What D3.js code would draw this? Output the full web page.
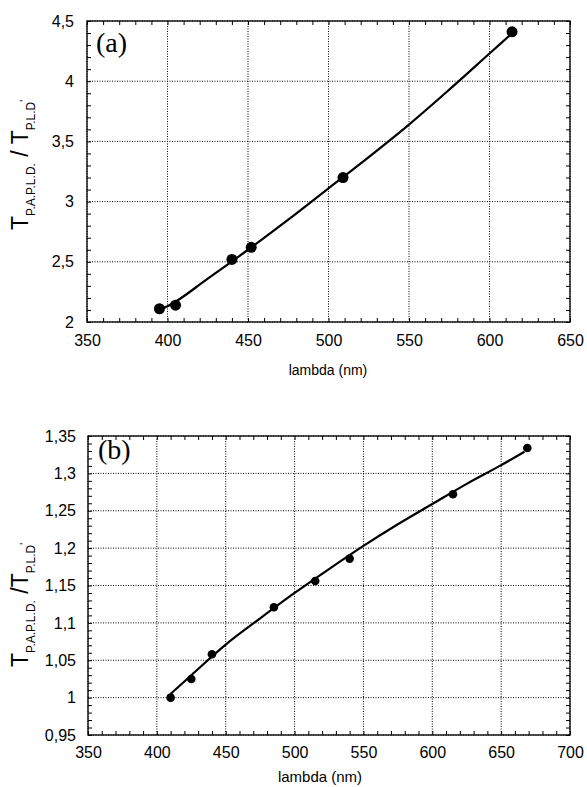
<!DOCTYPE html>
<html>
<head>
<meta charset="utf-8">
<script src="https://cdn.jsdelivr.net/npm/d3@7"></script>
<style>
  body { margin: 0; background: #fff; }
  svg { display: block; font-family: "Liberation Sans", Arial, Helvetica, sans-serif; }
</style>
</head>
<body>
<script>
// ---- panel (a) data ----
const lambdaA = [395, 405, 440, 452, 509, 614];
const ratioA = [2.11, 2.14, 2.52, 2.62, 3.20, 4.41];
// fitted curve
const fitLambdaA = [395, 400, 425, 450, 475, 500, 525, 550, 575, 600, 615];
const fitRatioA = [2.10, 2.13, 2.36, 2.60, 2.85, 3.11, 3.37, 3.64, 3.93, 4.23, 4.41];
const xTicksA = [350, 400, 450, 500, 550, 600, 650];
const xTickLabelsA = ["350", "400", "450", "500", "550", "600", "650"];
const yTicksA = [2, 2.5, 3, 3.5, 4, 4.5];
const yTickLabelsA = ["2", "2,5", "3", "3,5", "4", "4,5"];

// ---- panel (b) data ----
const lambdaB = [410, 425, 440, 485, 515, 540, 615, 669];
const ratioB = [1.000, 1.025, 1.058, 1.121, 1.156, 1.186, 1.272, 1.334];
const fitLambdaB = [410, 425, 450, 475, 500, 525, 550, 575, 600, 625, 650, 667];
const fitRatioB = [1.005, 1.030, 1.071, 1.106, 1.140, 1.172, 1.203, 1.232, 1.259, 1.286, 1.311, 1.329];
const xTicksB = [350, 400, 450, 500, 550, 600, 650, 700];
const xTickLabelsB = ["350", "400", "450", "500", "550", "600", "650", "700"];
const yTicksB = [0.95, 1, 1.05, 1.1, 1.15, 1.2, 1.25, 1.3, 1.35];
const yTickLabelsB = ["0,95", "1", "1,05", "1,1", "1,15", "1,2", "1,25", "1,3", "1,35"];

// append svg element to body tag
var svg = d3.select('body').append('svg')
    .attr('width', 587)
    .attr('height', 787);

// draws one panel: frame, dotted grid, inward ticks, labels, curve and dots
function drawPanel(p) {
    var w = p.right - p.left,
        h = p.bottom - p.top;

    var x = d3.scaleLinear().domain(p.xDomain).range([0, w]),
        y = d3.scaleLinear().domain(p.yDomain).range([h, 0]);

    var g = svg.append('g')
        .attr('transform', 'translate(' + p.left + ',' + p.top + ')');

    // dotted grid on major ticks
    g.append('g').selectAll('line')
        .data(p.xTicks)
        .enter().append('line')
        .attr('x1', function(d) { return x(d); })
        .attr('x2', function(d) { return x(d); })
        .attr('y1', 0).attr('y2', h)
        .attr('stroke', '#000').attr('stroke-width', 1)
        .attr('stroke-dasharray', '1,1.5');
    g.append('g').selectAll('line')
        .data(p.yTicks)
        .enter().append('line')
        .attr('y1', function(d) { return y(d); })
        .attr('y2', function(d) { return y(d); })
        .attr('x1', 0).attr('x2', w)
        .attr('stroke', '#000').attr('stroke-width', 1)
        .attr('stroke-dasharray', '1,1.5');

    // minor ticks, inward, on all four sides
    var xMinor = d3.range(0, Math.round((p.xDomain[1] - p.xDomain[0]) / p.xMinorStep) + 1)
        .map(function(i) { return p.xDomain[0] + i * p.xMinorStep; });
    var yMinor = d3.range(0, Math.round((p.yDomain[1] - p.yDomain[0]) / p.yMinorStep) + 1)
        .map(function(i) { return p.yDomain[0] + i * p.yMinorStep; });

    var minorAxes = [
        [d3.axisBottom(x).tickValues(xMinor), 'translate(0,' + h + ')'],
        [d3.axisTop(x).tickValues(xMinor), 'translate(0,0)'],
        [d3.axisLeft(y).tickValues(yMinor), 'translate(0,0)'],
        [d3.axisRight(y).tickValues(yMinor), 'translate(' + w + ',0)']
    ];
    minorAxes.forEach(function(a) {
        var ax = g.append('g')
            .attr('transform', a[1])
            .call(a[0].tickSizeInner(-4).tickSizeOuter(0).tickFormat(''));
        ax.select('.domain').remove();
        ax.selectAll('line').attr('stroke', '#000').attr('stroke-width', 1);
    });

    // tick labels
    var xa = g.append('g')
        .attr('transform', 'translate(0,' + h + ')')
        .call(d3.axisBottom(x).tickValues(p.xTicks).tickSize(0).tickPadding(p.xPad)
            .tickFormat(function(d, i) { return p.xTickLabels[i]; }));
    var ya = g.append('g')
        .call(d3.axisLeft(y).tickValues(p.yTicks).tickSize(0).tickPadding(p.yPad)
            .tickFormat(function(d, i) { return p.yTickLabels[i]; }));
    [xa, ya].forEach(function(ax) {
        ax.select('.domain').remove();
        ax.selectAll('text')
            .attr('font-size', 16)
            .attr('font-family', '"Liberation Sans", Arial, Helvetica, sans-serif')
            .attr('fill', '#000');
    });

    // frame
    g.append('rect')
        .attr('width', w).attr('height', h)
        .attr('fill', 'none')
        .attr('stroke', '#000').attr('stroke-width', 1.3);

    // fitted curve
    var fit = p.fitX.map(function(d, i) { return [d, p.fitY[i]]; });
    g.append('path')
        .datum(fit)
        .attr('fill', 'none')
        .attr('stroke', '#000')
        .attr('stroke-width', 2.2)
        .attr('d', d3.line()
            .x(function(d) { return x(d[0]); })
            .y(function(d) { return y(d[1]); })
            .curve(d3.curveMonotoneX));

    // measured points
    g.selectAll('circle')
        .data(p.ptX)
        .enter().append('circle')
        .attr('cx', function(d) { return x(d); })
        .attr('cy', function(d, i) { return y(p.ptY[i]); })
        .attr('r', p.r)
        .attr('fill', '#000');

    // panel tag
    svg.append('text')
        .attr('x', p.tagX).attr('y', p.tagY)
        .attr('font-family', '"Liberation Serif", "Times New Roman", serif')
        .attr('font-size', 28)
        .text(p.tag);

    // x axis title
    svg.append('text')
        .attr('x', p.xTitleX).attr('y', p.xTitleY)
        .attr('text-anchor', 'middle')
        .attr('font-size', p.xTitleSize)
        .text('lambda (nm)');

    // y axis title T_P.A.P.L.D. / T_P.L.D'
    var t = svg.append('text')
        .attr('transform', 'translate(' + p.yTitleX + ',' + p.yTitleY + ') rotate(-90)')
        .attr('text-anchor', 'middle');
    t.append('tspan').attr('font-size', 23).text('T');
    t.append('tspan').attr('font-size', 12).attr('dy', 7).text('P.A.P.L.D.');
    t.append('tspan').attr('font-size', 23).attr('dy', -7).text(p.slash);
    t.append('tspan').attr('font-size', 23).text('T');
    t.append('tspan').attr('font-size', 12).attr('dy', 7).text('P.L.D');
    t.append('tspan').attr('font-size', 10).attr('dy', -7).text("'");
}

drawPanel({
    left: 87, right: 570, top: 21, bottom: 322,
    xDomain: [350, 650], yDomain: [2, 4.5],
    xMinorStep: 10, yMinorStep: 0.1,
    xTicks: xTicksA, xTickLabels: xTickLabelsA,
    yTicks: yTicksA, yTickLabels: yTickLabelsA,
    xPad: 12.5, yPad: 13,
    fitX: fitLambdaA, fitY: fitRatioA,
    ptX: lambdaA, ptY: ratioA, r: 5.5,
    tag: '(a)', tagX: 96, tagY: 52,
    xTitleX: 328, xTitleY: 375, xTitleSize: 14,
    yTitleX: 28, yTitleY: 165, slash: ' / '
});

drawPanel({
    left: 88, right: 570, top: 436, bottom: 735,
    xDomain: [350, 700], yDomain: [0.95, 1.35],
    xMinorStep: 10, yMinorStep: 0.01,
    xTicks: xTicksB, xTickLabels: xTickLabelsB,
    yTicks: yTicksB, yTickLabels: yTickLabelsB,
    xPad: 11.5, yPad: 12,
    fitX: fitLambdaB, fitY: fitRatioB,
    ptX: lambdaB, ptY: ratioB, r: 4.3,
    tag: '(b)', tagX: 98, tagY: 459,
    xTitleX: 320, xTitleY: 782, xTitleSize: 15,
    yTitleX: 28, yTitleY: 605, slash: ' /'
});
</script>
</body>
</html>
